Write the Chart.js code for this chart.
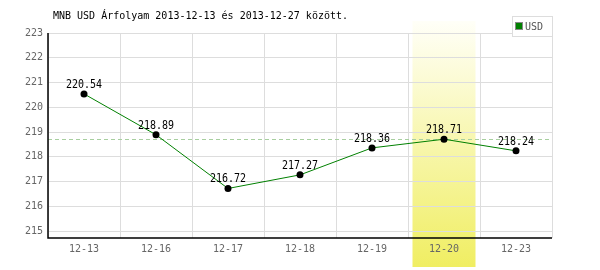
<!DOCTYPE html>
<html>
<head>
<meta charset="utf-8">
<script src="https://cdn.jsdelivr.net/npm/chart.js@4"></script>
<style>
  html, body { margin: 0; padding: 0; background: #fff; }
  #wrap { width: 600px; height: 270px; position: relative; }
</style>
</head>
<body>
<div id="wrap"><canvas id="chart" width="600" height="270"></canvas></div>
<script>
// data
var labels = ['12-13', '12-16', '12-17', '12-18', '12-19', '12-20', '12-23'];
var usd = [220.54, 218.89, 216.72, 217.27, 218.36, 218.71, 218.24];
var yTicks = [215, 216, 217, 218, 219, 220, 221, 222, 223];
var highlightIndex = 5;
var refValue = 218.71;
var title = 'MNB USD Árfolyam 2013-12-13 és 2013-12-27 között.';

var mono = '"DejaVu Sans Mono", "Liberation Mono", monospace';

// yellow band behind the highlighted day, plus the dashed reference line
var bandPlugin = {
  id: 'band',
  beforeDraw: function (chart) {
    var ctx = chart.ctx;
    var x = chart.scales.x.getPixelForValue(highlightIndex);
    var g = ctx.createLinearGradient(0, 21, 0, 267);
    g.addColorStop(0, 'rgba(255,255,248,1)');
    g.addColorStop(1, 'rgba(240,238,98,1)');
    ctx.save();
    ctx.fillStyle = g;
    ctx.fillRect(x - 31.5, 21, 63, 246);
    ctx.restore();
  },
  beforeDatasetsDraw: function (chart) {
    var ctx = chart.ctx;
    var a = chart.chartArea;
    var y = Math.round(chart.scales.y.getPixelForValue(refValue)) + 0.5;
    ctx.save();
    ctx.strokeStyle = '#a8cfa0';
    ctx.lineWidth = 1;
    ctx.setLineDash([4, 3]);
    ctx.beginPath();
    ctx.moveTo(a.left, y);
    ctx.lineTo(a.right, y);
    ctx.stroke();
    ctx.restore();
  },
  afterDraw: function (chart) {
    var ctx = chart.ctx;
    var a = chart.chartArea;
    ctx.save();
    // title
    ctx.font = '10px ' + mono;
    ctx.fillStyle = '#000';
    ctx.textBaseline = 'middle';
    ctx.textAlign = 'left';
    ctx.fillText(title, 53, 16);
    // black axis lines
    ctx.strokeStyle = '#000';
    ctx.lineWidth = 1.5;
    ctx.beginPath();
    ctx.moveTo(a.left, a.top);
    ctx.lineTo(a.left, a.bottom);
    ctx.lineTo(a.right, a.bottom);
    ctx.stroke();
    // legend box
    ctx.lineWidth = 1;
    ctx.strokeStyle = '#ddd';
    ctx.fillStyle = '#fff';
    ctx.fillRect(512.5, 16.5, 40, 20);
    ctx.strokeRect(512.5, 16.5, 40, 20);
    ctx.fillStyle = '#008000';
    ctx.fillRect(516, 23, 6, 6);
    ctx.strokeStyle = '#888';
    ctx.strokeRect(515.5, 22.5, 7, 7);
    ctx.fillStyle = '#555';
    ctx.font = '10px ' + mono;
    ctx.fillText('USD', 525, 27);
    // value labels (slightly stretched vertically, like the original's font)
    var meta = chart.getDatasetMeta(0);
    ctx.font = '10px ' + mono;
    ctx.fillStyle = '#000';
    ctx.textAlign = 'center';
    ctx.textBaseline = 'alphabetic';
    meta.data.forEach(function (pt, i) {
      ctx.save();
      ctx.translate(pt.x, pt.y - 6);
      ctx.scale(1, 1.25);
      ctx.fillText(usd[i].toFixed(2), 0, 0);
      ctx.restore();
    });
    ctx.restore();
  }
};

new Chart(document.getElementById('chart'), {
  type: 'line',
  data: {
    labels: labels,
    datasets: [{
      label: 'USD',
      data: usd,
      borderColor: '#008000',
      borderWidth: 1,
      pointRadius: 3.5,
      pointBackgroundColor: '#000',
      pointBorderColor: '#000',
      pointBorderWidth: 0,
      tension: 0
    }]
  },
  options: {
    responsive: false,
    animation: false,
    layout: { padding: { top: 33, right: 48, left: 0, bottom: 0 } },
    plugins: { legend: { display: false }, tooltip: { enabled: false } },
    scales: {
      x: {
        offset: true,
        grid: { offset: true, color: '#ddd', drawTicks: false },
        border: { display: false },
        ticks: { color: '#666', font: { family: mono, size: 10 }, padding: 5, maxRotation: 0 },
        afterFit: function (s) { s.height = 32; }
      },
      y: {
        min: 214.72,
        max: 223,
        grid: { color: '#ddd', drawTicks: false },
        border: { display: false },
        ticks: { color: '#666', font: { family: mono, size: 10 }, padding: 5 },
        afterBuildTicks: function (s) {
          s.ticks = yTicks.map(function (v) { return { value: v }; });
        },
        afterFit: function (s) { s.width = 48; }
      }
    }
  },
  plugins: [bandPlugin]
});
</script>
</body>
</html>
